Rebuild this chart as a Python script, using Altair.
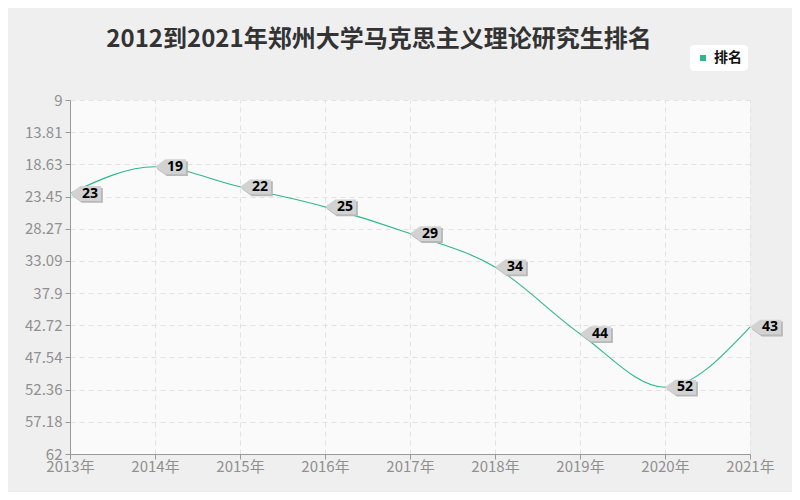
import altair as alt
import pandas as pd

years = ["2013年", "2014年", "2015年", "2016年", "2017年", "2018年", "2019年", "2020年", "2021年"]
ranks = [23, 19, 22, 25, 29, 34, 44, 52, 43]
y_ticks = [9, 13.81, 18.63, 23.45, 28.27, 33.09, 37.9, 42.72, 47.54, 52.36, 57.18, 62]
series_name = "排名"
title_text = "2012到2021年郑州大学马克思主义理论研究生排名"

GREEN = "#2db889"
FONT = "Noto Sans CJK SC"
AXIS_GREY = "#909090"

df = pd.DataFrame({"year": years, "rank": ranks, "series": [series_name] * len(years)})

x = alt.X(
    "year:O",
    sort=years,
    scale=alt.Scale(type="point", padding=0),
    axis=alt.Axis(
        title=None, labelAngle=0, grid=True, gridDash=[5, 4], gridColor="#e2e2e2",
        labelColor=AXIS_GREY, labelFontSize=15, labelFont=FONT, tickColor="#999999",
        domainColor="#999999", tickSize=5, labelPadding=0,
    ),
)
y = alt.Y(
    "rank:Q",
    scale=alt.Scale(domain=[9, 62], reverse=True, nice=False, zero=False),
    axis=alt.Axis(
        title=None, values=y_ticks, labelExpr="'' + datum.value", grid=True,
        gridDash=[5, 4], gridColor="#e2e2e2", labelColor=AXIS_GREY, labelFontSize=15,
        labelFont=FONT, tickColor="#999999", domainColor="#999999", tickSize=5,
        labelPadding=3,
    ),
)

base = alt.Chart(df)

line = base.mark_line(interpolate="monotone", strokeWidth=1.1).encode(
    x=x,
    y=y,
    color=alt.Color(
        "series:N",
        scale=alt.Scale(domain=[series_name], range=[GREEN]),
        legend=alt.Legend(
            title=None, orient="none", legendX=620, legendY=-55, fillColor="white",
            cornerRadius=4, padding=6, symbolType="square", symbolSize=36,
            symbolFillColor=GREEN, symbolStrokeWidth=0, labelFontSize=14,
            labelFontWeight="bold", labelFont=FONT, labelColor="#111111",
        ),
    ),
)

shadow_path = "M0.05,0.06 L0.38,-0.18 L1.06,-0.18 L1.06,0.3 L0.38,0.3 Z"
box_path = "M0,0 L0.33,-0.24 L1,-0.24 L1,0.24 L0.33,0.24 Z"
shadows = base.mark_point(
    shape=shadow_path, size=3844, filled=True, fill="#b8b8b8", opacity=1, strokeWidth=0,
).encode(x=x, y=y)
boxes = base.mark_point(
    shape=box_path, size=3844, filled=True, fill="#d2d2d2", opacity=1, strokeWidth=0,
).encode(x=x, y=y)

labels = base.mark_text(
    dx=20, dy=0, align="center", baseline="middle", fontSize=14,
    fontWeight="bold", font="Noto Sans", color="#000000",
).encode(x=x, y=y, text="rank:Q")

chart = (
    alt.layer(line, shadows, boxes, labels)
    .properties(
        width=680,
        height=354,
        autosize=alt.AutoSizeParams(type="none"),
        padding={"left": 62, "top": 92, "right": 42, "bottom": 38},
        title=alt.TitleParams(
            title_text, fontSize=24, font=FONT, fontWeight="bold", color="#333333",
            anchor="middle", dx=-31, offset=-7,
        ),
    )
    .configure(background="#efefef")
    .configure_view(fill="#fafafa", stroke=None)
)

chart.save("out.html", embed_options={"renderer": "svg", "actions": False})
